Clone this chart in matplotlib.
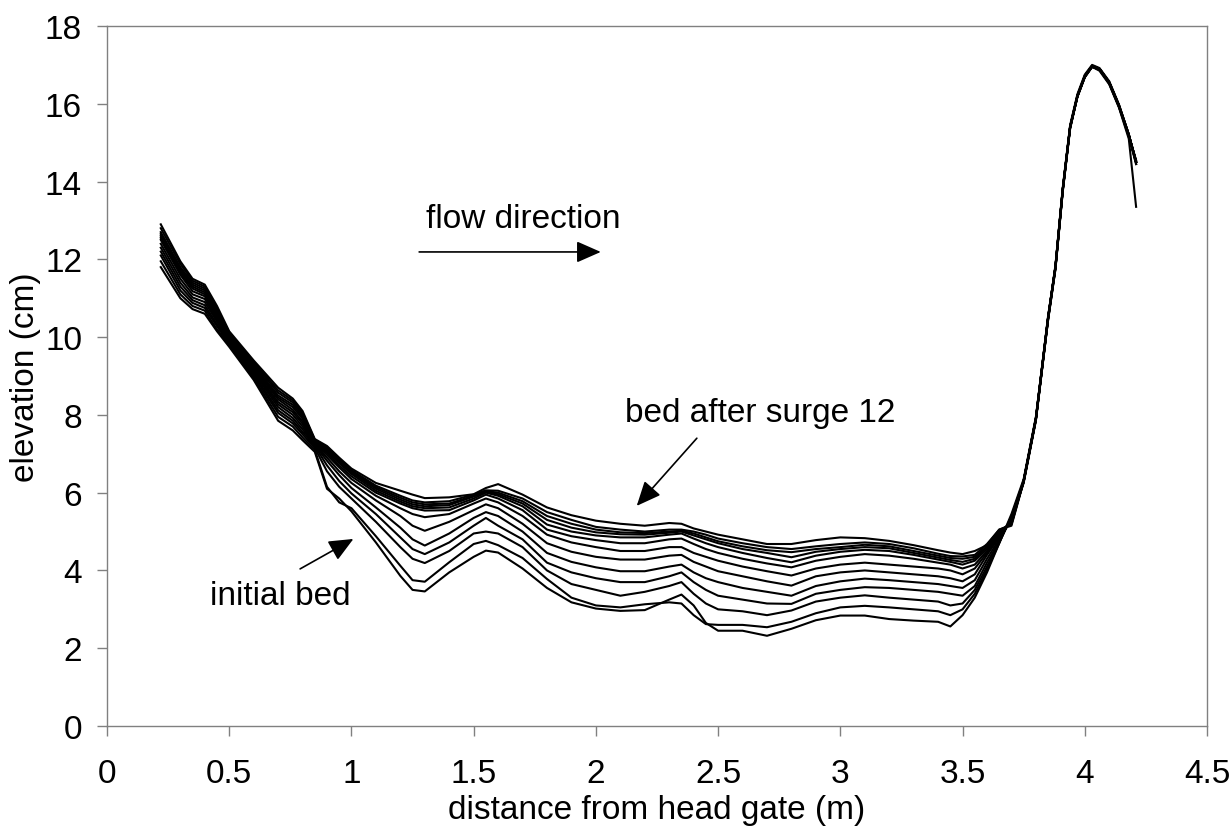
import matplotlib
matplotlib.use("Agg")
import matplotlib.pyplot as plt
from matplotlib.ticker import FixedLocator, FuncFormatter

plt.rcParams['font.family'] = ['Liberation Sans', 'DejaVu Sans']

# distance from head gate (m), shared by all bed profiles
x_dist = [0.22, 0.30, 0.35, 0.40, 0.45, 0.50, 0.60, 0.70, 0.76, 0.80,
          0.85, 0.90, 0.95, 1.00, 1.10, 1.20, 1.25, 1.30, 1.40, 1.50, 1.55, 1.60, 1.70, 1.80,
          1.90, 2.00, 2.10, 2.20, 2.30, 2.35, 2.40, 2.45, 2.50, 2.60, 2.70, 2.80, 2.90, 3.00,
          3.10, 3.20, 3.30, 3.40, 3.45, 3.50, 3.55, 3.60, 3.65, 3.70,
          3.75, 3.80, 3.85, 3.88, 3.91, 3.94, 3.97, 4.00, 4.03, 4.06, 4.10, 4.14, 4.18, 4.21]

# elevation (cm): initial bed and bed after each surge 1..12
bed_initial = [11.8, 11.0, 10.72, 10.6, 10.15, 9.75, 8.9, 7.85, 7.6, 7.35,
               7.05, 6.1, 5.85, 5.52, 4.72, 3.86, 3.5, 3.46, 3.95, 4.35, 4.51, 4.46, 4.05, 3.55,
               3.18, 3.02, 2.96, 2.98, 3.25, 3.38, 3.1, 2.65, 2.45, 2.45, 2.32, 2.5, 2.72, 2.84,
               2.84, 2.75, 2.71, 2.68, 2.56, 2.85, 3.3, 3.95, 4.7, 5.45,
               6.35, 7.95, 10.5, 11.8, 13.8, 15.4, 16.2, 16.7, 16.95, 16.85, 16.5, 15.9, 15.1, 13.35]
bed_s1 = [11.95, 11.1, 10.8, 10.68, 10.2, 9.8, 8.95, 7.95, 7.7, 7.42,
          7.1, 6.15, 5.75, 5.6, 4.88, 4.12, 3.75, 3.71, 4.21, 4.68, 4.76, 4.65, 4.32, 3.78,
          3.3, 3.1, 3.05, 3.13, 3.18, 3.15, 2.85, 2.62, 2.6, 2.6, 2.54, 2.68, 2.9, 3.05,
          3.09, 3.05, 3.0, 2.95, 2.85, 3.0, 3.4, 4.02, 4.7, 5.4,
          6.3, 7.9, 10.45, 11.75, 13.75, 15.35, 16.2, 16.72, 16.98, 16.9, 16.55, 15.95, 15.2, 14.45]
bed_s2 = [12.1, 11.2, 10.88, 10.75, 10.28, 9.83, 9.0, 8.05, 7.78, 7.5,
          7.15, 6.55, 6.15, 5.85, 5.25, 4.6, 4.3, 4.19, 4.5, 4.95, 5.0, 4.95, 4.6, 4.0,
          3.65, 3.5, 3.35, 3.45, 3.6, 3.7, 3.4, 3.15, 3.0, 2.95, 2.85, 2.97, 3.2, 3.3,
          3.36, 3.3, 3.25, 3.2, 3.1, 3.15, 3.5, 4.1, 4.72, 5.38,
          6.28, 7.88, 10.5, 11.85, 13.85, 15.45, 16.25, 16.75, 17.0, 16.92, 16.58, 15.98, 15.22, 14.5]
bed_s3 = [12.2, 11.3, 10.95, 10.82, 10.33, 9.87, 9.05, 8.12, 7.85, 7.56,
          7.2, 6.7, 6.3, 5.98, 5.45, 4.85, 4.55, 4.42, 4.72, 5.15, 5.35, 5.15, 4.8, 4.2,
          3.95, 3.8, 3.7, 3.7, 3.85, 3.95, 3.7, 3.5, 3.35, 3.25, 3.15, 3.14, 3.4, 3.5,
          3.57, 3.55, 3.5, 3.45, 3.4, 3.35, 3.6, 4.2, 4.75, 5.35,
          6.3, 7.92, 10.55, 11.8, 13.8, 15.4, 16.22, 16.7, 16.96, 16.88, 16.52, 15.92, 15.18, 14.55]
bed_s4 = [12.3, 11.4, 11.02, 10.9, 10.4, 9.9, 9.1, 8.2, 7.92, 7.63,
          7.22, 6.82, 6.45, 6.12, 5.62, 5.1, 4.8, 4.64, 4.95, 5.35, 5.5, 5.4, 5.0, 4.45,
          4.22, 4.08, 3.98, 3.98, 4.1, 4.15, 3.95, 3.8, 3.7, 3.55, 3.45, 3.35, 3.6, 3.72,
          3.79, 3.75, 3.7, 3.65, 3.6, 3.55, 3.75, 4.3, 4.8, 5.32,
          6.25, 7.85, 10.45, 11.78, 13.78, 15.38, 16.18, 16.68, 16.95, 16.88, 16.55, 15.95, 15.2, 14.5]
bed_s5 = [12.4, 11.5, 11.1, 10.98, 10.45, 9.93, 9.13, 8.27, 8.0, 7.7,
          7.24, 6.9, 6.55, 6.25, 5.8, 5.4, 5.15, 5.02, 5.25, 5.55, 5.7, 5.6, 5.2, 4.7,
          4.48, 4.35, 4.28, 4.28, 4.38, 4.4, 4.22, 4.1, 3.98, 3.85, 3.72, 3.61, 3.85, 3.95,
          4.0, 3.95, 3.9, 3.85, 3.8, 3.72, 3.9, 4.4, 4.85, 5.3,
          6.32, 7.9, 10.5, 11.82, 13.82, 15.42, 16.2, 16.72, 16.98, 16.9, 16.55, 15.95, 15.2, 14.52]
bed_s6 = [12.5, 11.6, 11.18, 11.05, 10.5, 9.97, 9.17, 8.33, 8.07, 7.77,
          7.26, 6.97, 6.65, 6.35, 5.92, 5.6, 5.45, 5.37, 5.45, 5.72, 5.85, 5.75, 5.4, 4.92,
          4.72, 4.6, 4.5, 4.5, 4.6, 4.6, 4.45, 4.35, 4.25, 4.1, 3.98, 3.87, 4.05, 4.15,
          4.2, 4.15, 4.1, 4.05, 4.0, 3.9, 4.05, 4.45, 4.9, 5.28,
          6.3, 7.9, 10.5, 11.8, 13.8, 15.4, 16.2, 16.7, 16.97, 16.9, 16.55, 15.95, 15.2, 14.5]
bed_s7 = [12.55, 11.65, 11.25, 11.1, 10.55, 10.0, 9.2, 8.4, 8.13, 7.83,
          7.28, 7.02, 6.7, 6.42, 6.0, 5.72, 5.6, 5.54, 5.55, 5.8, 5.95, 5.85, 5.55, 5.05,
          4.88, 4.78, 4.7, 4.7, 4.8, 4.82, 4.68, 4.55, 4.45, 4.3, 4.18, 4.08, 4.25, 4.35,
          4.42, 4.38, 4.3, 4.2, 4.15, 4.05, 4.15, 4.5, 4.95, 5.25,
          6.28, 7.88, 10.48, 11.8, 13.8, 15.4, 16.2, 16.7, 16.96, 16.88, 16.54, 15.94, 15.2, 14.52]
bed_s8 = [12.6, 11.7, 11.3, 11.15, 10.6, 10.03, 9.25, 8.45, 8.2, 7.9,
          7.3, 7.06, 6.76, 6.48, 6.05, 5.77, 5.65, 5.6, 5.62, 5.85, 6.0, 5.92, 5.65, 5.18,
          5.0, 4.9, 4.85, 4.85, 4.92, 4.95, 4.82, 4.7, 4.6, 4.45, 4.32, 4.21, 4.38, 4.48,
          4.53, 4.5, 4.4, 4.28, 4.22, 4.15, 4.25, 4.55, 4.95, 5.25,
          6.3, 7.9, 10.5, 11.8, 13.8, 15.4, 16.2, 16.7, 16.97, 16.9, 16.55, 15.95, 15.2, 14.5]
bed_s9 = [12.65, 11.75, 11.35, 11.2, 10.65, 10.06, 9.28, 8.5, 8.26, 7.95,
          7.32, 7.1, 6.8, 6.52, 6.1, 5.82, 5.7, 5.65, 5.68, 5.9, 6.02, 5.96, 5.72, 5.3,
          5.1, 4.98, 4.93, 4.92, 4.97, 5.0, 4.9, 4.8, 4.7, 4.55, 4.45, 4.34, 4.48, 4.55,
          4.6, 4.57, 4.45, 4.33, 4.27, 4.22, 4.3, 4.6, 5.0, 5.22,
          6.3, 7.9, 10.5, 11.8, 13.8, 15.4, 16.2, 16.7, 16.97, 16.9, 16.55, 15.95, 15.2, 14.5]
bed_s10 = [12.7, 11.8, 11.4, 11.25, 10.7, 10.09, 9.32, 8.57, 8.32, 8.0,
           7.34, 7.14, 6.84, 6.55, 6.14, 5.87, 5.75, 5.7, 5.72, 5.92, 6.04, 6.0, 5.78, 5.4,
           5.2, 5.05, 4.98, 4.96, 5.0, 5.02, 4.95, 4.85, 4.75, 4.62, 4.52, 4.47, 4.55, 4.6,
           4.66, 4.62, 4.5, 4.38, 4.32, 4.3, 4.35, 4.62, 5.02, 5.2,
           6.3, 7.9, 10.5, 11.8, 13.8, 15.4, 16.2, 16.7, 16.97, 16.9, 16.55, 15.95, 15.2, 14.5]
bed_s11 = [12.8, 11.88, 11.45, 11.3, 10.75, 10.12, 9.36, 8.63, 8.37, 8.05,
           7.36, 7.17, 6.87, 6.58, 6.18, 5.92, 5.8, 5.75, 5.78, 5.95, 6.06, 6.05, 5.85, 5.5,
           5.3, 5.12, 5.05, 5.0, 5.05, 5.05, 5.0, 4.92, 4.82, 4.7, 4.6, 4.55, 4.62, 4.68,
           4.72, 4.68, 4.57, 4.43, 4.37, 4.36, 4.4, 4.68, 5.05, 5.18,
           6.3, 7.9, 10.5, 11.8, 13.8, 15.4, 16.2, 16.7, 16.97, 16.9, 16.55, 15.95, 15.2, 14.5]
bed_s12 = [12.9, 11.95, 11.5, 11.35, 10.8, 10.15, 9.4, 8.7, 8.42, 8.1,
           7.38, 7.2, 6.9, 6.62, 6.25, 6.05, 5.95, 5.86, 5.88, 5.96, 6.12, 6.22, 5.95, 5.62,
           5.42, 5.28, 5.2, 5.15, 5.22, 5.2, 5.08, 5.0, 4.92, 4.8, 4.68, 4.68, 4.78, 4.85,
           4.83, 4.76, 4.65, 4.52, 4.46, 4.42, 4.5, 4.65, 5.05, 5.15,
           6.28, 7.88, 10.45, 11.75, 13.75, 15.38, 16.18, 16.68, 16.95, 16.88, 16.52, 15.92, 15.15, 14.45]

profiles = [bed_initial, bed_s1, bed_s2, bed_s3, bed_s4, bed_s5, bed_s6,
            bed_s7, bed_s8, bed_s9, bed_s10, bed_s11, bed_s12]

x_ticks = [0, 0.5, 1, 1.5, 2, 2.5, 3, 3.5, 4, 4.5]
y_ticks = [0, 2, 4, 6, 8, 10, 12, 14, 16, 18]

FS = 24
W, H = 1230, 829
fig = plt.figure(figsize=(W / 100, H / 100), dpi=100)
ax = fig.add_axes([107 / W, 1 - 727 / H, 1100 / W, 700 / H])

for prof in profiles:
    ax.plot(x_dist, prof, color='black', lw=1.5, solid_joinstyle='round')

ax.set_xlim(0, 4.5)
ax.set_ylim(0, 18)
ax.xaxis.set_major_locator(FixedLocator(x_ticks))
ax.yaxis.set_major_locator(FixedLocator(y_ticks))
ax.xaxis.set_major_formatter(FuncFormatter(lambda v, p: f"{v:g}"))
ax.yaxis.set_major_formatter(FuncFormatter(lambda v, p: f"{v:g}"))

for sp in ax.spines.values():
    sp.set_color('#808080')
    sp.set_linewidth(1.0)
ax.tick_params(axis='both', direction='out', length=7, width=1.0, color='#808080',
               labelsize=FS, labelcolor='black')
ax.tick_params(axis='y', pad=11)
ax.tick_params(axis='x', pad=16)

fig.text(26 / W, 1 - 377 / H, 'elevation (cm)', rotation=90, ha='center', va='center', fontsize=FS)
fig.text(657 / W, 1 - 826 / H, 'distance from head gate (m)', ha='center', va='bottom', fontsize=FS)

arrow = dict(arrowstyle='-|>,head_length=0.5,head_width=0.22', color='black', lw=1.2,
             mutation_scale=30, shrinkA=0, shrinkB=0)

ax.text(1.305, 13.06, 'flow direction', ha='left', va='center', fontsize=FS)
ax.annotate('', xy=(2.02, 12.19), xytext=(1.277, 12.19), arrowprops=arrow)

ax.text(2.12, 8.07, 'bed after surge 12', ha='left', va='center', fontsize=FS)
ax.annotate('', xy=(2.167, 5.66), xytext=(2.413, 7.40), arrowprops=arrow)

ax.text(0.708, 3.35, 'initial bed', ha='center', va='center', fontsize=FS)
ax.annotate('', xy=(1.008, 4.81), xytext=(0.79, 4.04), arrowprops=arrow)

fig.savefig('out.png', dpi=100)
